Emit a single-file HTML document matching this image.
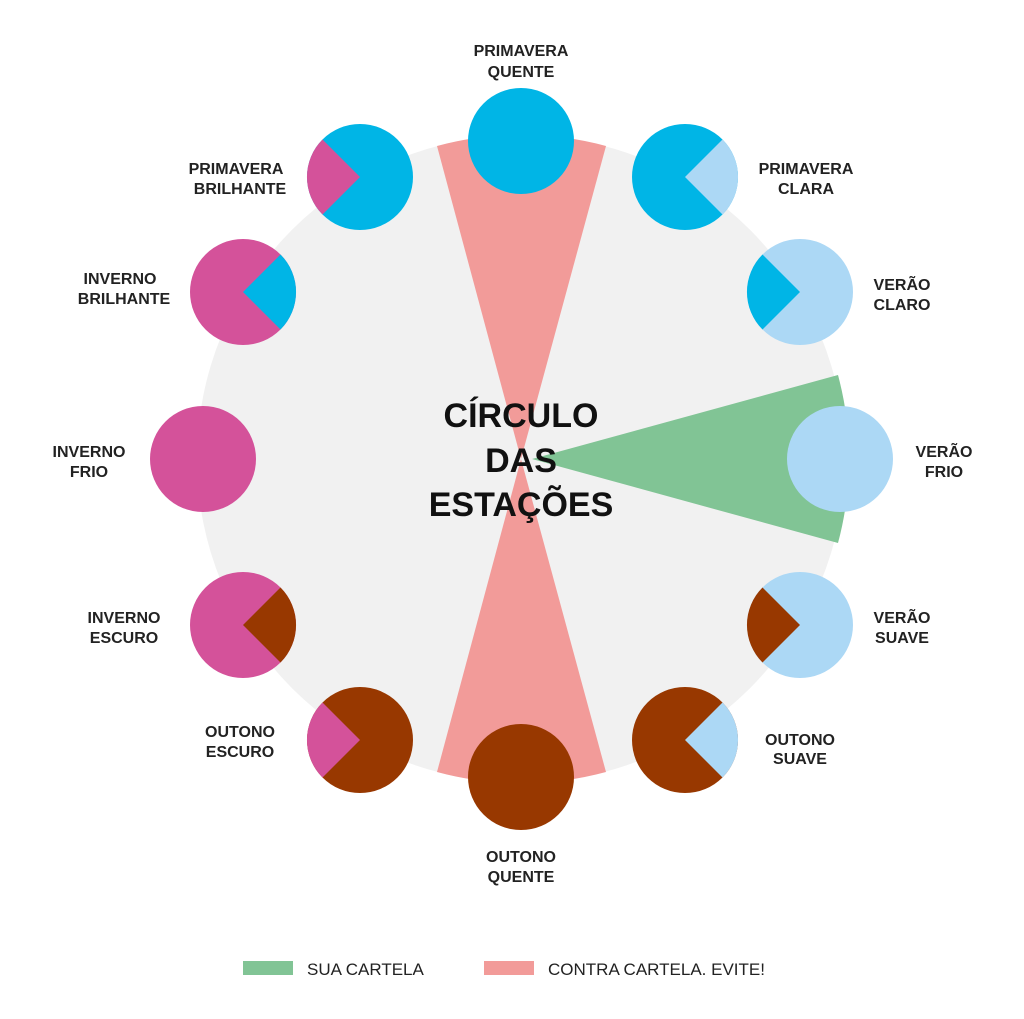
<!DOCTYPE html>
<html><head><meta charset="utf-8"><style>
html,body{margin:0;padding:0;background:#fff;}
svg{display:block;}
.l{font-family:"Liberation Sans",sans-serif;font-weight:bold;font-size:16px;fill:#222;text-anchor:middle;}
.t{font-family:"Liberation Sans",sans-serif;font-weight:bold;font-size:34px;fill:#111;text-anchor:middle;}
.g{font-family:"Liberation Sans",sans-serif;font-size:17px;fill:#222;}
</style></head><body>
<svg width="1024" height="1019" viewBox="0 0 1024 1019" xmlns="http://www.w3.org/2000/svg">
<circle cx="521" cy="459" r="324" fill="#f1f1f1"/>
<path d="M521,459 L437,146 A324 324 0 0 1 606,146 Z" fill="#f29b99"/>
<path d="M521,459 L437,772 A324 324 0 0 0 606,772 Z" fill="#f29b99"/>
<path d="M532,459 L838,375 A324 324 0 0 1 838,543 Z" fill="#81c495"/>
<circle cx="521" cy="141" r="53" fill="#00b5e6"/>
<circle cx="521" cy="777" r="53" fill="#983800"/>
<circle cx="203" cy="459" r="53" fill="#d4529a"/>
<circle cx="840" cy="459" r="53" fill="#acd8f5"/>
<circle cx="360" cy="177" r="53" fill="#00b5e6"/>
<path d="M360,177 L322.5,139.5 A53 53 0 0 0 322.5,214.5 Z" fill="#d4529a"/>
<circle cx="685" cy="177" r="53" fill="#00b5e6"/>
<path d="M685,177 L722.5,139.5 A53 53 0 0 1 722.5,214.5 Z" fill="#acd8f5"/>
<circle cx="243" cy="292" r="53" fill="#d4529a"/>
<path d="M243,292 L280.5,254.5 A53 53 0 0 1 280.5,329.5 Z" fill="#00b5e6"/>
<circle cx="800" cy="292" r="53" fill="#acd8f5"/>
<path d="M800,292 L762.5,254.5 A53 53 0 0 0 762.5,329.5 Z" fill="#00b5e6"/>
<circle cx="243" cy="625" r="53" fill="#d4529a"/>
<path d="M243,625 L280.5,587.5 A53 53 0 0 1 280.5,662.5 Z" fill="#983800"/>
<circle cx="800" cy="625" r="53" fill="#acd8f5"/>
<path d="M800,625 L762.5,587.5 A53 53 0 0 0 762.5,662.5 Z" fill="#983800"/>
<circle cx="360" cy="740" r="53" fill="#983800"/>
<path d="M360,740 L322.5,702.5 A53 53 0 0 0 322.5,777.5 Z" fill="#d4529a"/>
<circle cx="685" cy="740" r="53" fill="#983800"/>
<path d="M685,740 L722.5,702.5 A53 53 0 0 1 722.5,777.5 Z" fill="#acd8f5"/>

<text class="t" x="521" y="427">CÍRCULO</text>
<text class="t" x="521" y="472">DAS</text>
<text class="t" x="521" y="516">ESTAÇÕES</text>

<text class="l" x="521" y="56">PRIMAVERA</text><text class="l" x="521" y="77">QUENTE</text>
<text class="l" x="236" y="174">PRIMAVERA</text><text class="l" x="240" y="194">BRILHANTE</text>
<text class="l" x="806" y="174">PRIMAVERA</text><text class="l" x="806" y="194">CLARA</text>
<text class="l" x="120" y="284">INVERNO</text><text class="l" x="124" y="304">BRILHANTE</text>
<text class="l" x="902" y="290">VERÃO</text><text class="l" x="902" y="310">CLARO</text>
<text class="l" x="89" y="457">INVERNO</text><text class="l" x="89" y="477">FRIO</text>
<text class="l" x="944" y="457">VERÃO</text><text class="l" x="944" y="477">FRIO</text>
<text class="l" x="124" y="623">INVERNO</text><text class="l" x="124" y="643">ESCURO</text>
<text class="l" x="902" y="623">VERÃO</text><text class="l" x="902" y="643">SUAVE</text>
<text class="l" x="240" y="737">OUTONO</text><text class="l" x="240" y="757">ESCURO</text>
<text class="l" x="800" y="745">OUTONO</text><text class="l" x="800" y="764">SUAVE</text>
<text class="l" x="521" y="862">OUTONO</text><text class="l" x="521" y="882">QUENTE</text>

<rect x="243" y="961" width="50" height="14" fill="#81c495"/>
<text class="g" x="307" y="975">SUA CARTELA</text>
<rect x="484" y="961" width="50" height="14" fill="#f29b99"/>
<text class="g" x="548" y="975">CONTRA CARTELA. EVITE!</text>
</svg>
</body></html>
